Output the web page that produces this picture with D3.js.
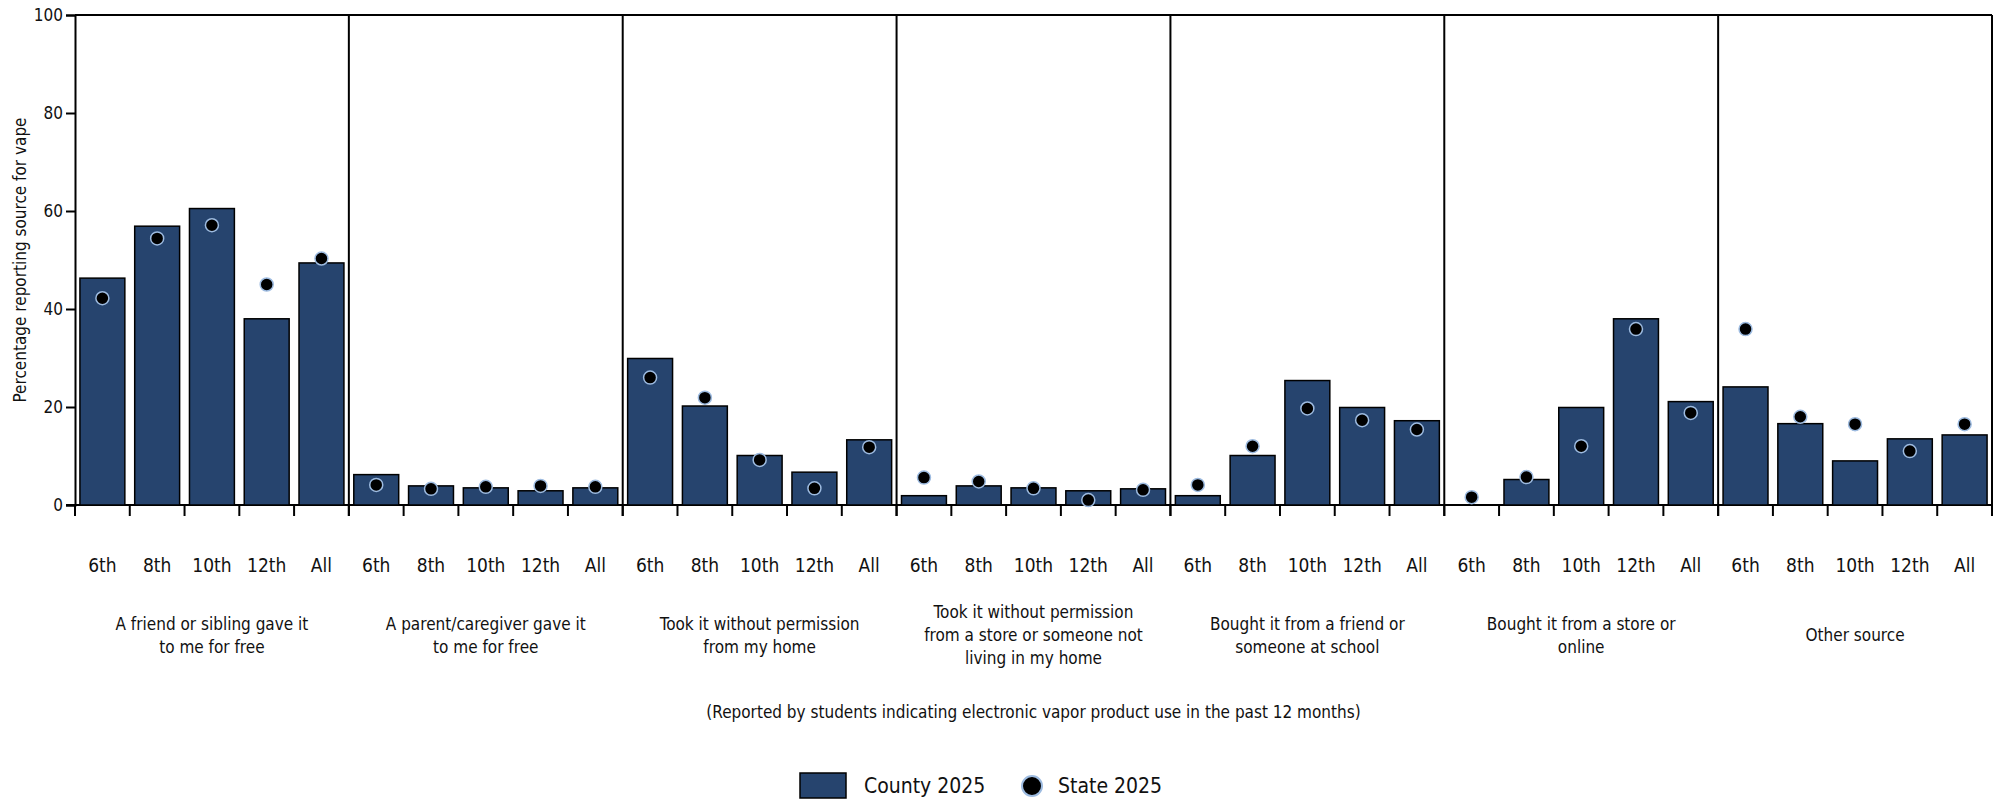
<!DOCTYPE html>
<html>
<head>
<meta charset="utf-8">
<script src="https://cdn.jsdelivr.net/npm/d3@7/dist/d3.min.js"></script>
<style>
  body { margin: 0; background: #fff; }
  text { font-family: "Liberation Sans Narrow", "DejaVu Sans Condensed", sans-serif; fill: #111; }
</style>
</head>
<body>
<script>
// dati
const groups = [
  ["A friend or sibling gave it", "to me for free"],
  ["A parent/caregiver gave it", "to me for free"],
  ["Took it without permission", "from my home"],
  ["Took it without permission", "from a store or someone not", "living in my home"],
  ["Bought it from a friend or", "someone at school"],
  ["Bought it from a store or", "online"],
  ["Other source"]
];
const grades = ["6th", "8th", "10th", "12th", "All"];
const county2025 = [
  [46.3, 56.9, 60.5, 38.0, 49.4],
  [6.2, 3.9, 3.5, 2.9, 3.5],
  [29.9, 20.2, 10.1, 6.7, 13.3],
  [1.9, 3.9, 3.5, 2.9, 3.3],
  [1.9, 10.1, 25.4, 19.9, 17.2],
  [null, 5.2, 19.9, 38.0, 21.1],
  [24.1, 16.6, 9.0, 13.5, 14.3]
];
const state2025 = [
  [42.2, 54.4, 57.1, 45.0, 50.3],
  [4.1, 3.3, 3.7, 3.9, 3.7],
  [26.0, 21.9, 9.2, 3.4, 11.8],
  [5.6, 4.8, 3.4, 1.0, 3.1],
  [4.1, 12.0, 19.7, 17.3, 15.4],
  [1.6, 5.7, 12.0, 35.9, 18.8],
  [35.9, 18.0, 16.5, 11.0, 16.5]
];
const yTicks = [0, 20, 40, 60, 80, 100];

const width = 2001, height = 803;
const mLeft = 75, mRight = 1992, mTop = 15, mBottom = 505;
const barColor = "#26446e", dotStroke = "#9dbbe0";

const svg = d3.select("body").append("svg")
  .attr("width", width)
  .attr("height", height);

const x0 = d3.scaleBand().domain(d3.range(groups.length)).range([mLeft, mRight]);
const x1 = d3.scaleBand().domain(grades).range([0, x0.bandwidth()])
  .paddingInner(0.18).paddingOuter(0.09);
const y = d3.scaleLinear().domain([0, 100]).range([mBottom, mTop]);

// asse y
svg.append("g")
  .attr("transform", `translate(${mLeft},0)`)
  .call(d3.axisLeft(y).tickValues(yTicks).tickSize(9).tickPadding(3))
  .call((g) => g.select(".domain").attr("stroke", "#000").attr("stroke-width", 2))
  .call((g) => g.selectAll(".tick line").attr("stroke", "#000").attr("stroke-width", 2))
  .call((g) => g.selectAll(".tick text")
    .style("font-family", "'Liberation Sans Narrow', 'DejaVu Sans Condensed', sans-serif")
    .style("font-size", "17px").attr("fill", "#111"));

svg.append("text")
  .attr("transform", `translate(20,${(mTop + mBottom) / 2}) rotate(-90)`)
  .attr("text-anchor", "middle")
  .attr("dominant-baseline", "central")
  .style("font-size", "17px")
  .text("Percentage reporting source for vape");

// bordo superiore, destro e asse x
svg.append("line").attr("x1", mLeft).attr("x2", mRight).attr("y1", mTop).attr("y2", mTop)
  .attr("stroke", "#000").attr("stroke-width", 2);
svg.append("line").attr("x1", mRight).attr("x2", mRight).attr("y1", mTop).attr("y2", mBottom)
  .attr("stroke", "#000").attr("stroke-width", 2);
svg.append("line").attr("x1", mLeft - 9).attr("x2", mRight).attr("y1", mBottom).attr("y2", mBottom)
  .attr("stroke", "#000").attr("stroke-width", 2);

// separatori tra i gruppi
svg.selectAll(".divider")
  .data(d3.range(1, groups.length))
  .enter()
  .append("line")
  .attr("class", "divider")
  .attr("x1", (d) => x0(d)).attr("x2", (d) => x0(d))
  .attr("y1", mTop).attr("y2", mBottom)
  .attr("stroke", "#000").attr("stroke-width", 2);

// tick tra le categorie
const tickXs = [];
groups.forEach((g, gi) => {
  const step = x0.bandwidth() / grades.length;
  for (let k = 0; k <= grades.length; k++) tickXs.push(x0(gi) + k * step);
});
svg.selectAll(".xtick")
  .data(tickXs)
  .enter()
  .append("line")
  .attr("x1", (d) => d).attr("x2", (d) => d)
  .attr("y1", mBottom).attr("y2", mBottom + 11)
  .attr("stroke", "#000").attr("stroke-width", 2);

const group = svg.selectAll(".group")
  .data(groups)
  .enter()
  .append("g")
  .attr("class", "group")
  .attr("transform", (d, i) => `translate(${x0(i)},0)`);

// barre County
group.selectAll("rect")
  .data((d, i) => grades.map((gr, j) => ({ grade: gr, value: county2025[i][j] })).filter((o) => o.value != null))
  .enter()
  .append("rect")
  .attr("x", (d) => x1(d.grade))
  .attr("y", (d) => y(d.value))
  .attr("width", x1.bandwidth())
  .attr("height", (d) => y(0) - y(d.value))
  .attr("fill", barColor)
  .attr("stroke", "#000")
  .attr("stroke-width", 1.5);

// punti State
group.selectAll("circle")
  .data((d, i) => grades.map((gr, j) => ({ grade: gr, value: state2025[i][j] })))
  .enter()
  .append("circle")
  .attr("cx", (d) => x1(d.grade) + x1.bandwidth() / 2)
  .attr("cy", (d) => y(d.value))
  .attr("r", 6.5)
  .attr("fill", "#000")
  .attr("stroke", dotStroke)
  .attr("stroke-width", 1.5);

// etichette gradi
group.selectAll(".grade")
  .data(grades)
  .enter()
  .append("text")
  .attr("class", "grade")
  .attr("x", (d) => x1(d) + x1.bandwidth() / 2)
  .attr("y", 565)
  .attr("text-anchor", "middle")
  .attr("dominant-baseline", "central")
  .style("font-size", "19px")
  .text((d) => d);

// etichette gruppi
group.append("text")
  .attr("x", x0.bandwidth() / 2)
  .attr("text-anchor", "middle")
  .style("font-size", "17px")
  .each(function (d) {
    const lh = 23;
    const start = 635 - ((d.length - 1) * lh) / 2;
    d.forEach((line, k) => {
      d3.select(this).append("tspan")
        .attr("x", x0.bandwidth() / 2)
        .attr("y", start + k * lh)
        .attr("dominant-baseline", "central")
        .text(line);
    });
  });

svg.append("text")
  .attr("x", (mLeft + mRight) / 2)
  .attr("y", 712)
  .attr("text-anchor", "middle")
  .attr("dominant-baseline", "central")
  .style("font-size", "17px")
  .text("(Reported by students indicating electronic vapor product use in the past 12 months)");

// legenda
const legend = svg.append("g");
legend.append("rect")
  .attr("x", 800).attr("y", 773).attr("width", 46).attr("height", 25)
  .attr("fill", barColor).attr("stroke", "#000").attr("stroke-width", 1.5);
legend.append("text")
  .attr("x", 864).attr("y", 786)
  .attr("dominant-baseline", "central")
  .style("font-size", "21px")
  .text("County 2025");
legend.append("circle")
  .attr("cx", 1032).attr("cy", 786).attr("r", 10)
  .attr("fill", "#000").attr("stroke", dotStroke).attr("stroke-width", 2);
legend.append("text")
  .attr("x", 1058).attr("y", 786)
  .attr("dominant-baseline", "central")
  .style("font-size", "21px")
  .text("State 2025");
</script>
</body>
</html>
